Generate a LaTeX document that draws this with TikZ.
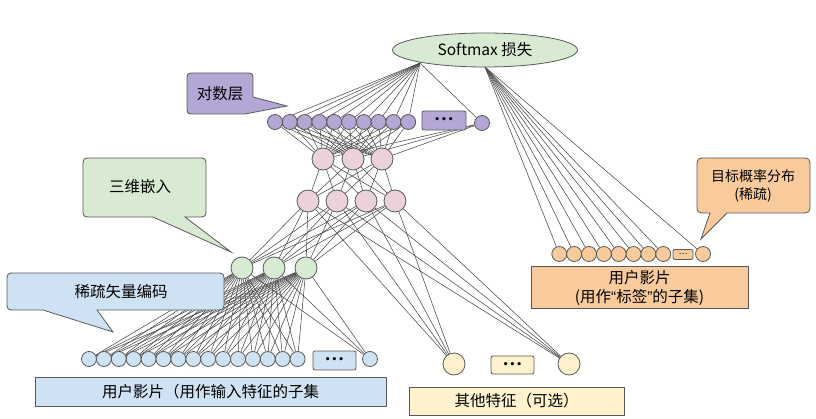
\documentclass[tikz,border=0pt]{standalone}
\usepackage{fontspec}
\setmainfont{Noto Sans CJK SC}
\newfontfamily\dejavu{DejaVu Sans}
\newfontfamily\latinq{Liberation Sans}
\usetikzlibrary{shapes.geometric}
\definecolor{lgreen}{HTML}{D9EAD3}
\definecolor{lblue}{HTML}{CFE2F3}
\definecolor{lorange}{HTML}{F9CB9C}
\definecolor{lyellow}{HTML}{FFF2CC}
\definecolor{lpink}{HTML}{EAD1DC}
\definecolor{lpurple}{HTML}{B4A7D6}
\definecolor{edgegray}{HTML}{595959}
\definecolor{wiregray}{HTML}{4A4A4A}
\pgfdeclarelayer{bg}
\pgfsetlayers{bg,main}
\begin{document}
\begin{tikzpicture}[x=1pt,y=-1pt,
  wire/.style={draw=wiregray, line width=0.55pt},
  smallc/.style={circle, draw=edgegray, line width=0.8pt, inner sep=0pt, minimum size=15pt},
  bigc/.style={circle, draw=edgegray, line width=0.8pt, inner sep=0pt, minimum size=22pt},
  dotbox/.style={rectangle, rounded corners=2pt, draw=edgegray, line width=0.8pt, inner sep=0pt},
  dots/.style={font=\dejavu\bfseries\fontsize{9}{9}\selectfont},
  lblbox/.style={rectangle, draw=edgegray, line width=1pt, inner sep=0pt, font=\fontsize{15.5}{18.5}\selectfont},
  callshape/.style={draw=edgegray, line width=0.8pt},
  txt/.style={inner sep=0pt, font=\fontsize{15.5}{18.5}\selectfont},
]
\useasboundingbox (0,0) rectangle (816,419);

% --- softmax ---
\node[ellipse, draw=edgegray, line width=0.8pt, fill=lgreen, minimum width=185pt, minimum height=34pt, inner sep=0pt, font=\fontsize{15.5}{18.5}\selectfont] (sm) at (485,50) {Softmax 损失};
\coordinate (smL) at (420,63);
\coordinate (smR) at (485,67);

% --- logits layer ---
\foreach \i in {1,...,10}
  \node[smallc, fill=lpurple] (p\i) at ({275+14.8*(\i-1)},122) {};
\node[dotbox, dots, fill=lpurple, minimum width=44pt, minimum height=19pt] (pdots) at (444,120.5) {•\kern1pt•\kern1pt•};
\node[smallc, fill=lpurple] (p11) at (482,123) {};

% --- hidden layers ---
\foreach \i/\x in {1/323,2/353,3/382}
  \node[bigc, fill=lpink] (a\i) at (\x,159) {};
\foreach \i/\x in {1/308,2/337,3/366,4/395}
  \node[bigc, fill=lpink] (b\i) at (\x,201) {};

% --- embedding ---
\foreach \i/\x in {1/242,2/274,3/306}
  \node[bigc, fill=lgreen] (g\i) at (\x,268) {};

% --- sparse input ---
\foreach \i in {1,...,15}
  \node[smallc, fill=lblue] (u\i) at ({89+14.9*(\i-1)},359) {};
\node[dotbox, dots, fill=lblue, minimum width=43pt, minimum height=19pt] (udots) at (334.5,360.5) {•\kern1pt•\kern1pt•};
\node[smallc, fill=lblue] (u16) at (370,359) {};

% --- other features ---
\node[bigc, fill=lyellow] (y1) at (454,364) {};
\node[dotbox, dots, fill=lyellow, minimum width=43pt, minimum height=18pt] (ydots) at (512.5,365) {•\kern1pt•\kern1pt•};
\node[bigc, fill=lyellow] (y2) at (569,364) {};

% --- target labels ---
\foreach \i in {1,...,8}
  \node[smallc, fill=lorange] (o\i) at ({559.3+14.85*(\i-1)},254) {};
\node[dotbox, fill=lorange, minimum width=20pt, minimum height=10pt, font=\fontsize{8}{8}\selectfont] (odots) at (683,254.5) {…};
\node[smallc, fill=lorange] (o9) at (703,254) {};

% --- label boxes ---
\node[lblbox, fill=lblue, minimum width=351pt, minimum height=29pt] (lblU) at (210.5,391.5) {用户影片（用作输入特征的子集};
\node[lblbox, fill=lyellow, minimum width=215pt, minimum height=28pt] (lblY) at (516.5,401) {其他特征（可选）};
\node[lblbox, fill=lorange, minimum width=217pt, minimum height=42pt, align=center] (lblO) at (639.5,288) {用户影片\\(用作{\latinq “}标签{\latinq ”}的子集)};

% --- callouts ---
\path[callshape, fill=lpurple] (195,73) -- (245,73) .. controls (253,73) .. (253,81) -- (253,97) -- (287,106) -- (245,114) -- (195,114) .. controls (187,114) .. (187,106) -- (187,81) .. controls (187,73) .. (195,73) -- cycle;
\node[txt] (cPurple) at (220,93.5) {对数层};

\path[callshape, fill=lgreen] (92,158) -- (197,158) .. controls (206,158) .. (206,167) -- (206,208) .. controls (206,217) .. (197,217) -- (185,217) -- (231,252) -- (153,217) -- (92,217) .. controls (83,217) .. (83,208) -- (83,167) .. controls (83,158) .. (92,158) -- cycle;
\node[txt] (cGreen) at (140,187) {三维嵌入};

\path[callshape, fill=lblue] (16,273) -- (215,273) .. controls (224,273) .. (224,282) -- (224,301) .. controls (224,310) .. (215,310) -- (97,310) -- (113,332) -- (43,310) -- (16,310) .. controls (7,310) .. (7,301) -- (7,282) .. controls (7,273) .. (16,273) -- cycle;
\node[txt] (cBlue) at (121,292) {稀疏矢量编码};

\path[callshape, fill=lorange] (707,158) -- (800,158) .. controls (810,158) .. (810,168) -- (810,203) .. controls (810,213) .. (800,213) -- (727,213) -- (701,239) -- (710,213) -- (707,213) .. controls (697,213) .. (697,203) -- (697,168) .. controls (697,158) .. (707,158) -- cycle;
\node[inner sep=0pt, align=center, font=\fontsize{14}{18}\selectfont] (cOrange) at (753,186) {目标概率分布\\(稀疏)};

% --- wires ---
\begin{pgfonlayer}{bg}
\foreach \i in {1,...,11} \draw[wire] (smL) -- (p\i);
\foreach \i in {1,...,9} \draw[wire] (smR) -- (o\i);
\foreach \i in {1,...,11} \foreach \j in {1,2,3} \draw[wire] (p\i) -- (a\j);
\foreach \i in {1,2,3} \foreach \j in {1,...,4} \draw[wire] (a\i) -- (b\j);
\foreach \i in {1,...,4} \foreach \j in {1,2,3} \draw[wire] (b\i) -- (g\j);
\foreach \i in {1,...,4} \foreach \j in {1,2} \draw[wire] (b\i) -- (y\j);
\foreach \i in {1,2,3} \foreach \j in {1,...,16} \draw[wire] (g\i) -- (u\j);
\end{pgfonlayer}
\end{tikzpicture}
\end{document}
